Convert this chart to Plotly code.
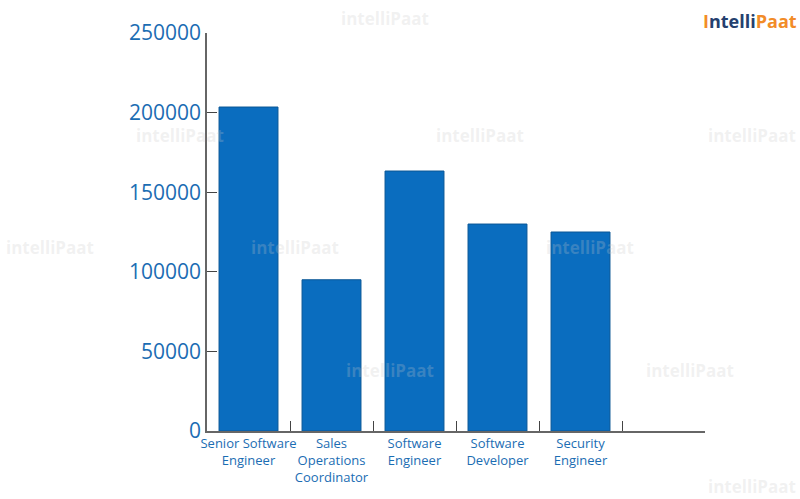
import plotly.graph_objects as go

categories = ["Senior Software<br>Engineer", "Sales<br>Operations<br>Coordinator",
              "Software<br>Engineer", "Software<br>Developer", "Security<br>Engineer", " "]
salaries = [203500, 95000, 163300, 130000, 125000, None]
y_ticks = [0, 50000, 100000, 150000, 200000, 250000]

BLUE_TXT = "#1b6db3"
BAR = "#0a6dbf"

L, R, T, B = 207, 95, 33, 68
PW, PH = 800 - L - R, 499 - T - B


def px2paper(px, py):
    return (px - L) / PW, (499 - B - py) / PH


fig = go.Figure()
fig.add_trace(go.Bar(
    x=categories, y=salaries,
    marker=dict(color=BAR, line=dict(color="#0b5796", width=1)),
    width=0.71, hoverinfo="skip"))

# faint watermarks (only where they do not cover labels)
wm = [(385, 18), (180, 135), (480, 135), (752, 135), (50, 248), (295, 248),
      (590, 248), (390, 370), (690, 370), (752, 486)]
for px, py in wm:
    ax, ay = px2paper(px, py)
    fig.add_annotation(x=ax, y=ay, xref="paper", yref="paper", xanchor="center",
                       yanchor="middle", text="<b>intelliPaat</b>", showarrow=False,
                       font=dict(family="Open Sans", size=17, color="rgba(200,200,200,0.25)"))

lx, ly = px2paper(750, 21)
fig.add_annotation(x=lx, y=ly, xref="paper", yref="paper", xanchor="center", yanchor="middle",
                   text="<b><span style='color:#f28c28'>I</span><span style='color:#24406e'>ntelli</span><span style='color:#f28c28'>Paat</span></b>",
                   showarrow=False, font=dict(family="Open Sans", size=18))

fig.update_layout(
    width=800, height=499,
    margin=dict(l=L, r=R, t=T, b=B),
    paper_bgcolor="white", plot_bgcolor="white",
    showlegend=False,
    xaxis=dict(type="category", tickson="boundaries", ticks="inside", ticklen=10,
               tickcolor="#444", tickwidth=1, showline=True, linecolor="#666",
               linewidth=1.5, showgrid=False, range=[-0.5, 5.5], tickangle=0,
               automargin=False,
               tickfont=dict(family="Open Sans", size=13, color=BLUE_TXT)),
    yaxis=dict(range=[0, 250000], tickvals=y_ticks, tickformat="d", ticks="inside",
               ticklen=10, tickcolor="#444", showline=True, linecolor="#666",
               linewidth=1.5, showgrid=False, zeroline=False, automargin=False,
               tickfont=dict(family="Open Sans", size=21, color=BLUE_TXT)),
)

fig.write_html("out.html")
